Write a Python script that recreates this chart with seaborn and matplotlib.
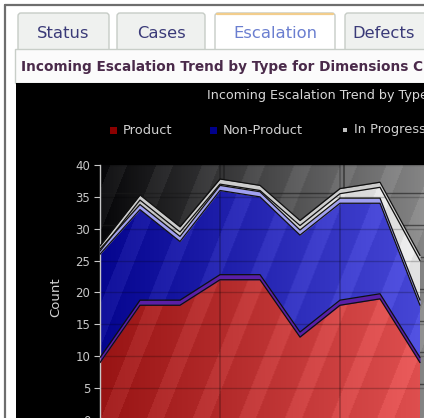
import numpy as np
import pandas as pd
import seaborn as sns
import matplotlib.pyplot as plt
from matplotlib.patches import Rectangle, FancyBboxPatch
from matplotlib.colors import LinearSegmentedColormap

# values (stacked counts per period)
periods = [0, 1, 2, 3, 4, 5, 6, 7, 8]
product = [9, 18, 18, 22, 22, 13, 18, 19, 9]
non_product = [17, 15, 10, 14, 13, 16, 16, 15, 9]
in_progress = [0.5, 1.5, 1.5, 1, 1, 1.5, 1.5, 2.5, 7]
series_names = ['Product', 'Non-Product', 'In Progress']
legend_colors = ['#8b0000', '#00008b', '#c0c0c0']
tab_names = ['Status', 'Cases', 'Escalation', 'Defects']
y_ticks = [0, 5, 10, 15, 20, 25, 30, 35, 40]

df = pd.DataFrame({'period': periods, 'Product': product,
                   'Non-Product': non_product, 'In Progress': in_progress})
tops = df[series_names].cumsum(axis=1)

sns.set_style('dark')
plt.rcParams['font.family'] = ['DejaVu Sans']

W, H = 424, 418
fig = plt.figure(figsize=(W / 100, H / 100), dpi=100)
fig.patch.set_facecolor('white')


def px_rect(x0, y0, x1, y1):
    return [x0 / W, 1 - y1 / H, (x1 - x0) / W, (y1 - y0) / H]


# --- page chrome (tabs, header strip) in pixel coordinates ---
bg = fig.add_axes([0, 0, 1, 1])
bg.set_xlim(0, W)
bg.set_ylim(H, 0)
bg.axis('off')

bg.plot([5, 5], [5, H], color='#6e6e6e', lw=1.6)
bg.plot([5, W], [5, 5], color='#6e6e6e', lw=1.6)

tab_x = [(18, 109), (117, 205), (215, 335), (345, 440)]
for name, (x0, x1) in zip(tab_names, tab_x):
    active = name == 'Escalation'
    bg.add_patch(FancyBboxPatch((x0, 13), x1 - x0, 40,
                                boxstyle='round,pad=0,rounding_size=3',
                                facecolor='white' if active else '#eff1ef',
                                edgecolor='#c6ccc6', lw=1))
    if active:
        bg.plot([x0 + 2, x1 - 2], [13.5, 13.5], color='#f2cd8c', lw=1.6)
    if name == 'Defects':
        bg.text(x0 + 7, 33, name, color='#3a3a78', fontsize=11.8,
                ha='left', va='center', clip_on=True)
    else:
        bg.text((x0 + x1) / 2, 33, name,
                color='#6a7ed0' if active else '#3a3a78',
                fontsize=11.8, ha='center', va='center')

bg.add_patch(Rectangle((15, 49), W, 34, facecolor='#fbfbfb',
                       edgecolor='#c8cec8', lw=1))
bg.text(21, 67, 'Incoming Escalation Trend by Type for Dimensions C',
        color='#4a2a4a', fontsize=9.8, fontweight='bold', ha='left',
        va='center', clip_on=True)

bg.add_patch(Rectangle((16, 83), W, H, facecolor='black', edgecolor='none'))
bg.text(207, 95, 'Incoming Escalation Trend by Type', color='#d8d8d8',
        fontsize=9.2, ha='left', va='center', clip_on=True)

legend_x = [110, 210, 343]
for name, col, x in zip(series_names, legend_colors, legend_x):
    s = 4 if name == 'In Progress' else 7
    bg.add_patch(Rectangle((x, 130 - s / 2), s, s, facecolor=col,
                           edgecolor='none'))
    bg.text(x + (11 if s == 4 else 13), 130, name, color='#d0d0d0',
            fontsize=9.4, ha='left', va='center', clip_on=True)

# --- chart axes (extends past the right/bottom edge like the crop) ---
ax = fig.add_axes(px_rect(100, 165, 500, 420))
XMAX, YMAX = 10, 40
xx, yy = np.meshgrid(np.linspace(0, XMAX, 400), np.linspace(YMAX, 0, 255))
stripes = (((xx * 40) - 0.4 * (yy * 6.375)) % 46 < 17) * 0.05


def gradient_img(c0, c1, span=8.2):
    cmap = LinearSegmentedColormap.from_list('g', [c0, c1])
    img = cmap(np.clip(xx / span, 0, 1))
    img[..., :3] = np.clip(img[..., :3] + stripes[..., None], 0, 1)
    return img


# back wall
ax.imshow(gradient_img('#060608', '#8c8c8c', 8.6), extent=(0, XMAX, 0, YMAX),
          aspect='auto', zorder=0)
for v in y_ticks[1:]:
    ax.axhline(v + 0.6, color='#1a1a1a', lw=1, alpha=0.6, zorder=0.5)
for v in [3, 6, 9]:
    ax.axvline(v + 0.1, color='#1a1a1a', lw=1.2, alpha=0.6, zorder=0.5)


def shaded(lo, hi, c0, c1, z):
    poly = ax.fill_between(periods, lo, hi, facecolor='none',
                           edgecolor='none', zorder=z)
    im = ax.imshow(gradient_img(c0, c1), extent=(0, XMAX, 0, YMAX),
                   aspect='auto', zorder=z)
    im.set_clip_path(poly.get_paths()[0], transform=ax.transData)


zeros = [0] * len(periods)
shaded(zeros, tops['Product'], '#981414', '#e05050', 1)
shaded(tops['Product'], tops['Non-Product'], '#05058f', '#4848d8', 1)
shaded(tops['Non-Product'], tops['In Progress'], '#b8b8b8', '#e4e4e4', 1)

# grid over the front faces
for v in y_ticks[1:]:
    ax.axhline(v, color='black', lw=1, alpha=0.22, zorder=2)
for v in [3, 6, 9]:
    ax.axvline(v, color='black', lw=1.4, alpha=0.22, zorder=2)

# top faces of each layer
band_colors = ['#5a1fa6', '#a0a0f0', '#cdcdcd']
for name, col in zip(series_names, band_colors):
    ax.fill_between(periods, tops[name], tops[name] + 0.8, color=col,
                    lw=0, zorder=3)
    sns.lineplot(x=periods, y=tops[name] + 0.8, color='#101010', lw=0.9,
                 ax=ax, zorder=4)
    sns.lineplot(x=periods, y=tops[name], color='#101010', lw=0.9,
                 ax=ax, zorder=4)

ax.set_xlim(0, XMAX)
ax.set_ylim(0, YMAX)
ax.set_xticks([])
ax.set_yticks(y_ticks)
ax.tick_params(axis='y', colors='#c8c8c8', labelsize=8.5, length=4,
               width=0.8, direction='out', left=True, pad=3)
for side in ['top', 'right', 'bottom']:
    ax.spines[side].set_visible(False)
ax.spines['left'].set_color('#c8c8c8')
ax.spines['left'].set_linewidth(1)
ax.set_ylabel('Count', color='#d4d4d4', fontsize=9.5, labelpad=10)
ax.yaxis.set_label_coords(-38 / 400, 0.48)
ax.set_xlabel('')
ax.grid(False)

plt.savefig('out.png', dpi=100)
